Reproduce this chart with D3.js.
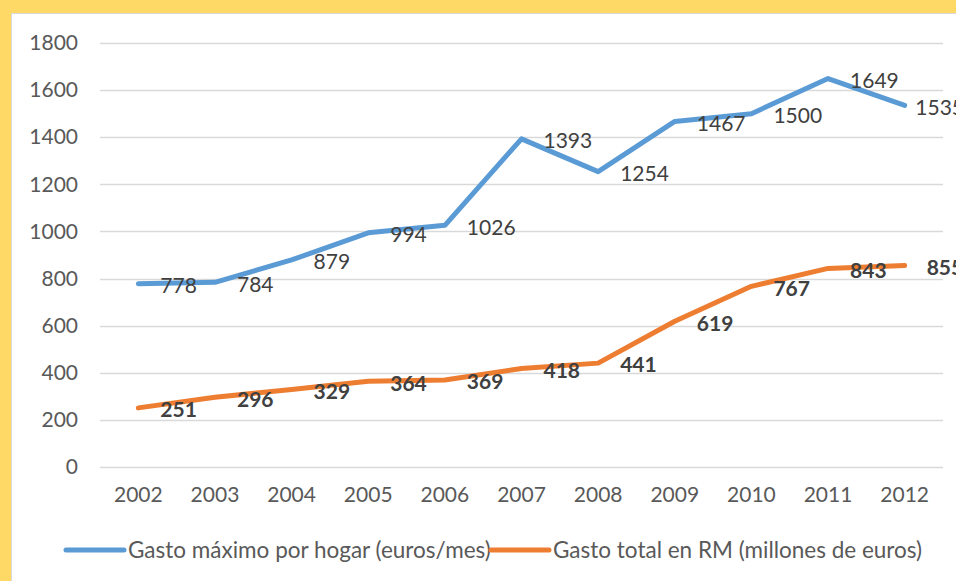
<!DOCTYPE html>
<html>
<head>
<meta charset="utf-8">
<script src="https://cdn.jsdelivr.net/npm/d3@7"></script>
<style>
  html, body { margin: 0; padding: 0; background: #ffd966; }
  svg { display: block; }
</style>
</head>
<body>
<script>
// data
var years = ["2002", "2003", "2004", "2005", "2006", "2007", "2008", "2009", "2010", "2011", "2012"];
var gastoMaximo = [778, 784, 879, 994, 1026, 1393, 1254, 1467, 1500, 1649, 1535];
var gastoTotal = [251, 296, 329, 364, 369, 418, 441, 619, 767, 843, 855];
var yTicks = [0, 200, 400, 600, 800, 1000, 1200, 1400, 1600, 1800];
var seriesNames = ["Gasto máximo por hogar (euros/mes)", "Gasto total en RM (millones de euros)"];

var w = 956;
var h = 581;
var font = "Lato, 'Open Sans', sans-serif";

var svg = d3.select("body")
  .append("svg")
  .attr("width", w)
  .attr("height", h);

// white panel inside the yellow frame
svg.append("rect")
  .attr("x", 11.5)
  .attr("y", 13.5)
  .attr("width", w)
  .attr("height", h)
  .attr("fill", "#fff")
  .attr("stroke", "#d9d9d9")
  .attr("stroke-width", 1);

var x = d3.scaleBand()
  .domain(years)
  .range([100, 943]);

var y = d3.scaleLinear()
  .domain([0, 1800])
  .range([467, 43]);

function cx(d, i) { return x(years[i]) + x.bandwidth() / 2; }

// gridlines
svg.selectAll("line.grid")
  .data(yTicks)
  .enter()
  .append("line")
  .attr("class", "grid")
  .attr("x1", 100)
  .attr("x2", 943)
  .attr("y1", function(d) { return Math.round(y(d)) + 0.5; })
  .attr("y2", function(d) { return Math.round(y(d)) + 0.5; })
  .attr("stroke", "#d9d9d9")
  .attr("stroke-width", 1.3);

// y axis labels
var yAxis = svg.append("g")
  .attr("transform", "translate(78,0)")
  .call(d3.axisLeft(y).tickValues(yTicks).tickFormat(d3.format("d")).tickSize(0).tickPadding(0));
yAxis.select(".domain").remove();
yAxis.selectAll("text")
  .attr("font-family", font)
  .attr("font-size", 21)
  .attr("fill", "#595959");

// x axis labels
var xAxis = svg.append("g")
  .attr("transform", "translate(0,479)")
  .call(d3.axisBottom(x).tickSize(0).tickPadding(8));
xAxis.select(".domain").remove();
xAxis.selectAll("text")
  .attr("font-family", font)
  .attr("font-size", 21)
  .attr("fill", "#595959");

var line = d3.line()
  .x(cx)
  .y(function(d) { return y(d); });

var series = [
  { values: gastoMaximo, color: "#5b9bd5", weight: "normal" },
  { values: gastoTotal, color: "#ed7d31", weight: "bold" }
];

series.forEach(function(s) {
  svg.append("path")
    .datum(s.values)
    .attr("d", line)
    .attr("fill", "none")
    .attr("stroke", s.color)
    .attr("stroke-width", 5)
    .attr("stroke-linecap", "round")
    .attr("stroke-linejoin", "round");
});

series.forEach(function(s) {
  svg.selectAll(null)
    .data(s.values)
    .enter()
    .append("text")
    .attr("x", function(d, i) { return cx(d, i) + 22; })
    .attr("y", function(d) { return y(d) + 2; })
    .attr("dy", "0.35em")
    .attr("font-family", font)
    .attr("font-size", 21)
    .attr("font-weight", s.weight)
    .attr("fill", "#404040")
    .text(function(d) { return d; })
    .each(function() {
      // pull labels back in when they run past the chart edge
      var bb = this.getBBox();
      if (bb.x + bb.width > 964) {
        d3.select(this).attr("x", 964 - bb.width);
      }
    });
});

// legend
var legend = svg.append("g").attr("transform", "translate(0,550)");
var legendX = [66, 491];
seriesNames.forEach(function(name, i) {
  legend.append("line")
    .attr("x1", legendX[i])
    .attr("x2", legendX[i] + 58)
    .attr("stroke", series[i].color)
    .attr("stroke-width", 5)
    .attr("stroke-linecap", "round");
  legend.append("text")
    .attr("x", legendX[i] + 62)
    .attr("dy", "0.35em")
    .attr("font-family", font)
    .attr("font-size", 22.5)
    .attr("fill", "#595959")
    .text(name);
});
</script>
</body>
</html>
